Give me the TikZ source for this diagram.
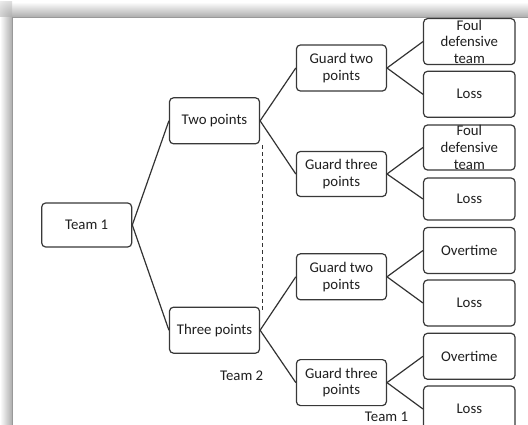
\documentclass[tikz,border=0pt]{standalone}
\usepackage{fontspec}
\setmainfont{Carlito}
\usetikzlibrary{calc}
\tikzset{
  box/.style={draw=black!78, line width=1.2pt, rounded corners=4pt, fill=white,
    minimum width=90pt, minimum height=46pt, inner sep=0pt, align=center,
    text=black!88, font=\fontsize{14.8}{16.6}\selectfont},
  rbox/.style={box, minimum width=91.5pt},
  link/.style={draw=black!80, line width=1.2pt},
  lbl/.style={text=black!88, font=\fontsize{14.8}{16.6}\selectfont, inner sep=0pt}
}
\begin{document}
\begin{tikzpicture}[x=1pt,y=-1pt]
\useasboundingbox (0,0) rectangle (528,425);
% shadowed panel
\fill[white] (0,0) rectangle (528,425);
\shade[top color=white, bottom color=black!32] (12,2) rectangle (528,17);
\shade[left color=white, right color=black!32] (0,17) rectangle (12,425);
\begin{scope}
  \clip (0,2) rectangle (12,17);
  \shade[inner color=black!32, outer color=white] (12,17) circle (26);
\end{scope}
\fill[white] (12,17) rectangle (528,425);
\draw[black!40, line width=0.8pt] (12,425) -- (12,17) -- (528,17);
% nodes
\node[box, minimum height=44pt] (t1) at (86.7,225) {Team 1};
\node[box] (two) at (214.5,120.8) {Two points};
\node[box] (three) at (214.5,330.2) {Three points};
\node[box] (g1) at (341.4,68) {Guard two\\points};
\node[box, minimum height=45pt] (g2) at (341.4,174) {Guard three\\points};
\node[box] (g3) at (341.4,276.8) {Guard two\\points};
\node[box] (g4) at (341.4,382.6) {Guard three\\points};
\node[rbox] (f1) at (469.3,41.6) {Foul\\defensive\\team};
\node[rbox] (l1) at (469.3,94.3) {Loss};
\node[rbox, minimum height=45pt] (f2) at (469.3,147.5) {Foul\\defensive\\team};
\node[rbox, minimum height=42pt] (l2) at (469.3,199) {Loss};
\node[rbox] (o3) at (469.3,250.5) {Overtime};
\node[rbox] (l3) at (469.3,303) {Loss};
\node[rbox] (o4) at (469.3,356.3) {Overtime};
\node[rbox] (l4) at (469.3,409) {Loss};
\node[lbl] (team2) at (241.7,376) {Team 2};
\node[lbl] (team1b) at (386.5,417) {Team 1};
% connectors
\draw[link] (t1.east) -- (two.west);
\draw[link] (t1.east) -- (three.west);
\draw[link] (two.east) -- (g1.west);
\draw[link] (two.east) -- (g2.west);
\draw[link] (three.east) -- (g3.west);
\draw[link] (three.east) -- (g4.west);
\draw[link] (g1.east) -- (f1.west);
\draw[link] (g1.east) -- (l1.west);
\draw[link] (g2.east) -- (f2.west);
\draw[link] (g2.east) -- (l2.west);
\draw[link] (g3.east) -- (o3.west);
\draw[link] (g3.east) -- (l3.west);
\draw[link] (g4.east) -- (o4.west);
\draw[link] (g4.east) -- (l4.west);
% information set
\coordinate (dtop) at ($(two.south east)+(2.5,1)$);
\coordinate (dbot) at ($(three.north east)+(2.5,6)$);
\draw[black!80, line width=1.2pt, dash pattern=on 4pt off 3pt] (dtop) -- (dbot);
\end{tikzpicture}
\end{document}
